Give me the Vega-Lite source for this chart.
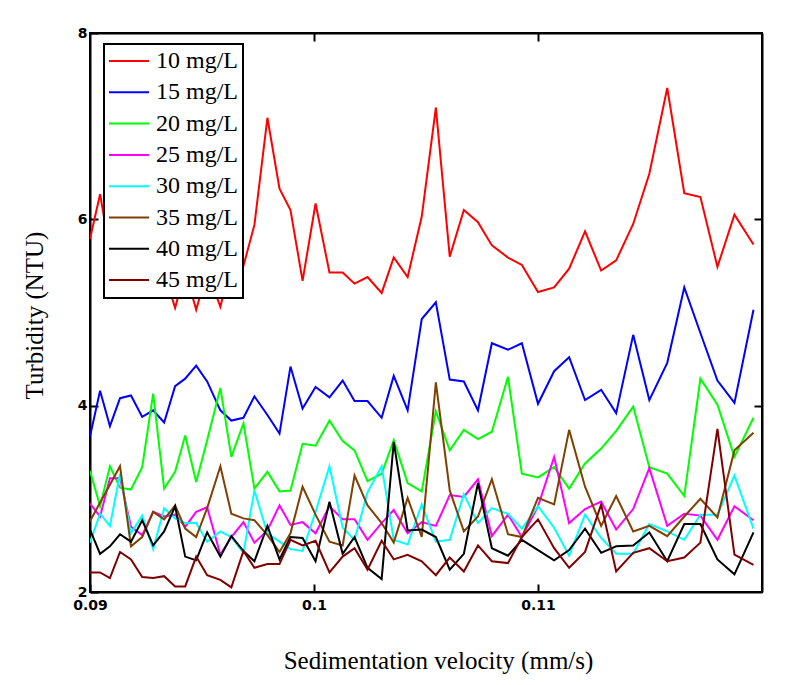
{
  "$schema": "https://vega.github.io/schema/vega-lite/v6.json",
  "width": 672,
  "height": 559,
  "autosize": {"type": "none"},
  "padding": {"left": 90, "top": 33, "right": 38, "bottom": 93},
  "background": "white",
  "data": {
    "values": [
      {"vel": 0.09, "conc": "10 mg/L", "ntu": 5.79},
      {"vel": 0.09045, "conc": "10 mg/L", "ntu": 6.27},
      {"vel": 0.09089, "conc": "10 mg/L", "ntu": 5.65},
      {"vel": 0.09134, "conc": "10 mg/L", "ntu": 5.9},
      {"vel": 0.09183, "conc": "10 mg/L", "ntu": 5.5},
      {"vel": 0.09233, "conc": "10 mg/L", "ntu": 5.75},
      {"vel": 0.09282, "conc": "10 mg/L", "ntu": 5.5},
      {"vel": 0.09331, "conc": "10 mg/L", "ntu": 5.43},
      {"vel": 0.0938, "conc": "10 mg/L", "ntu": 5.05},
      {"vel": 0.09425, "conc": "10 mg/L", "ntu": 5.45},
      {"vel": 0.09474, "conc": "10 mg/L", "ntu": 5.03},
      {"vel": 0.09523, "conc": "10 mg/L", "ntu": 5.45},
      {"vel": 0.09582, "conc": "10 mg/L", "ntu": 5.06},
      {"vel": 0.09631, "conc": "10 mg/L", "ntu": 5.55},
      {"vel": 0.09685, "conc": "10 mg/L", "ntu": 5.5},
      {"vel": 0.09734, "conc": "10 mg/L", "ntu": 5.94},
      {"vel": 0.09792, "conc": "10 mg/L", "ntu": 7.09},
      {"vel": 0.09846, "conc": "10 mg/L", "ntu": 6.33},
      {"vel": 0.09895, "conc": "10 mg/L", "ntu": 6.1},
      {"vel": 0.09949, "conc": "10 mg/L", "ntu": 5.34},
      {"vel": 0.10007, "conc": "10 mg/L", "ntu": 6.17},
      {"vel": 0.10069, "conc": "10 mg/L", "ntu": 5.43},
      {"vel": 0.10128, "conc": "10 mg/L", "ntu": 5.43},
      {"vel": 0.10181, "conc": "10 mg/L", "ntu": 5.31},
      {"vel": 0.10239, "conc": "10 mg/L", "ntu": 5.38},
      {"vel": 0.10302, "conc": "10 mg/L", "ntu": 5.21},
      {"vel": 0.10356, "conc": "10 mg/L", "ntu": 5.59},
      {"vel": 0.10418, "conc": "10 mg/L", "ntu": 5.38},
      {"vel": 0.10481, "conc": "10 mg/L", "ntu": 6.03},
      {"vel": 0.10544, "conc": "10 mg/L", "ntu": 7.2},
      {"vel": 0.10606, "conc": "10 mg/L", "ntu": 5.6},
      {"vel": 0.10669, "conc": "10 mg/L", "ntu": 6.1},
      {"vel": 0.10732, "conc": "10 mg/L", "ntu": 5.97},
      {"vel": 0.10794, "conc": "10 mg/L", "ntu": 5.72},
      {"vel": 0.10866, "conc": "10 mg/L", "ntu": 5.59},
      {"vel": 0.10928, "conc": "10 mg/L", "ntu": 5.51},
      {"vel": 0.11, "conc": "10 mg/L", "ntu": 5.22},
      {"vel": 0.11072, "conc": "10 mg/L", "ntu": 5.27},
      {"vel": 0.11139, "conc": "10 mg/L", "ntu": 5.47},
      {"vel": 0.1121, "conc": "10 mg/L", "ntu": 5.87},
      {"vel": 0.11282, "conc": "10 mg/L", "ntu": 5.45},
      {"vel": 0.11349, "conc": "10 mg/L", "ntu": 5.56},
      {"vel": 0.11425, "conc": "10 mg/L", "ntu": 5.95},
      {"vel": 0.11497, "conc": "10 mg/L", "ntu": 6.49},
      {"vel": 0.11577, "conc": "10 mg/L", "ntu": 7.41},
      {"vel": 0.11653, "conc": "10 mg/L", "ntu": 6.28},
      {"vel": 0.11725, "conc": "10 mg/L", "ntu": 6.24},
      {"vel": 0.11801, "conc": "10 mg/L", "ntu": 5.49},
      {"vel": 0.11877, "conc": "10 mg/L", "ntu": 6.05},
      {"vel": 0.11962, "conc": "10 mg/L", "ntu": 5.73},

      {"vel": 0.09, "conc": "15 mg/L", "ntu": 3.67},
      {"vel": 0.09045, "conc": "15 mg/L", "ntu": 4.16},
      {"vel": 0.09089, "conc": "15 mg/L", "ntu": 3.78},
      {"vel": 0.09134, "conc": "15 mg/L", "ntu": 4.08},
      {"vel": 0.09183, "conc": "15 mg/L", "ntu": 4.11},
      {"vel": 0.09233, "conc": "15 mg/L", "ntu": 3.88},
      {"vel": 0.09282, "conc": "15 mg/L", "ntu": 3.95},
      {"vel": 0.09331, "conc": "15 mg/L", "ntu": 3.82},
      {"vel": 0.0938, "conc": "15 mg/L", "ntu": 4.21},
      {"vel": 0.09425, "conc": "15 mg/L", "ntu": 4.29},
      {"vel": 0.09474, "conc": "15 mg/L", "ntu": 4.43},
      {"vel": 0.09523, "conc": "15 mg/L", "ntu": 4.26},
      {"vel": 0.09582, "conc": "15 mg/L", "ntu": 3.95},
      {"vel": 0.09631, "conc": "15 mg/L", "ntu": 3.84},
      {"vel": 0.09685, "conc": "15 mg/L", "ntu": 3.87},
      {"vel": 0.09734, "conc": "15 mg/L", "ntu": 4.1},
      {"vel": 0.09792, "conc": "15 mg/L", "ntu": 3.9},
      {"vel": 0.09846, "conc": "15 mg/L", "ntu": 3.7},
      {"vel": 0.09895, "conc": "15 mg/L", "ntu": 4.42},
      {"vel": 0.09949, "conc": "15 mg/L", "ntu": 3.97},
      {"vel": 0.10007, "conc": "15 mg/L", "ntu": 4.2},
      {"vel": 0.10069, "conc": "15 mg/L", "ntu": 4.09},
      {"vel": 0.10128, "conc": "15 mg/L", "ntu": 4.27},
      {"vel": 0.10181, "conc": "15 mg/L", "ntu": 4.05},
      {"vel": 0.10239, "conc": "15 mg/L", "ntu": 4.05},
      {"vel": 0.10302, "conc": "15 mg/L", "ntu": 3.87},
      {"vel": 0.10356, "conc": "15 mg/L", "ntu": 4.32},
      {"vel": 0.10418, "conc": "15 mg/L", "ntu": 3.95},
      {"vel": 0.10481, "conc": "15 mg/L", "ntu": 4.93},
      {"vel": 0.10544, "conc": "15 mg/L", "ntu": 5.11},
      {"vel": 0.10606, "conc": "15 mg/L", "ntu": 4.28},
      {"vel": 0.10669, "conc": "15 mg/L", "ntu": 4.26},
      {"vel": 0.10732, "conc": "15 mg/L", "ntu": 3.95},
      {"vel": 0.10794, "conc": "15 mg/L", "ntu": 4.67},
      {"vel": 0.10866, "conc": "15 mg/L", "ntu": 4.6},
      {"vel": 0.10928, "conc": "15 mg/L", "ntu": 4.67},
      {"vel": 0.11, "conc": "15 mg/L", "ntu": 4.02},
      {"vel": 0.11072, "conc": "15 mg/L", "ntu": 4.37},
      {"vel": 0.11139, "conc": "15 mg/L", "ntu": 4.52},
      {"vel": 0.1121, "conc": "15 mg/L", "ntu": 4.06},
      {"vel": 0.11282, "conc": "15 mg/L", "ntu": 4.17},
      {"vel": 0.11349, "conc": "15 mg/L", "ntu": 3.92},
      {"vel": 0.11425, "conc": "15 mg/L", "ntu": 4.76},
      {"vel": 0.11497, "conc": "15 mg/L", "ntu": 4.06},
      {"vel": 0.11577, "conc": "15 mg/L", "ntu": 4.46},
      {"vel": 0.11653, "conc": "15 mg/L", "ntu": 5.27},
      {"vel": 0.11725, "conc": "15 mg/L", "ntu": 4.78},
      {"vel": 0.11801, "conc": "15 mg/L", "ntu": 4.27},
      {"vel": 0.11877, "conc": "15 mg/L", "ntu": 4.03},
      {"vel": 0.11962, "conc": "15 mg/L", "ntu": 5.03},

      {"vel": 0.09, "conc": "20 mg/L", "ntu": 3.3},
      {"vel": 0.09045, "conc": "20 mg/L", "ntu": 2.92},
      {"vel": 0.09089, "conc": "20 mg/L", "ntu": 3.35},
      {"vel": 0.09134, "conc": "20 mg/L", "ntu": 3.12},
      {"vel": 0.09183, "conc": "20 mg/L", "ntu": 3.1},
      {"vel": 0.09233, "conc": "20 mg/L", "ntu": 3.34},
      {"vel": 0.09282, "conc": "20 mg/L", "ntu": 4.13},
      {"vel": 0.09331, "conc": "20 mg/L", "ntu": 3.11},
      {"vel": 0.0938, "conc": "20 mg/L", "ntu": 3.29},
      {"vel": 0.09425, "conc": "20 mg/L", "ntu": 3.68},
      {"vel": 0.09474, "conc": "20 mg/L", "ntu": 3.18},
      {"vel": 0.09523, "conc": "20 mg/L", "ntu": 3.63},
      {"vel": 0.09582, "conc": "20 mg/L", "ntu": 4.19},
      {"vel": 0.09631, "conc": "20 mg/L", "ntu": 3.45},
      {"vel": 0.09685, "conc": "20 mg/L", "ntu": 3.81},
      {"vel": 0.09734, "conc": "20 mg/L", "ntu": 3.11},
      {"vel": 0.09792, "conc": "20 mg/L", "ntu": 3.29},
      {"vel": 0.09846, "conc": "20 mg/L", "ntu": 3.08},
      {"vel": 0.09895, "conc": "20 mg/L", "ntu": 3.09},
      {"vel": 0.09949, "conc": "20 mg/L", "ntu": 3.59},
      {"vel": 0.10007, "conc": "20 mg/L", "ntu": 3.57},
      {"vel": 0.10069, "conc": "20 mg/L", "ntu": 3.84},
      {"vel": 0.10128, "conc": "20 mg/L", "ntu": 3.62},
      {"vel": 0.10181, "conc": "20 mg/L", "ntu": 3.52},
      {"vel": 0.10239, "conc": "20 mg/L", "ntu": 3.19},
      {"vel": 0.10302, "conc": "20 mg/L", "ntu": 3.27},
      {"vel": 0.10356, "conc": "20 mg/L", "ntu": 3.63},
      {"vel": 0.10418, "conc": "20 mg/L", "ntu": 3.17},
      {"vel": 0.10481, "conc": "20 mg/L", "ntu": 3.08},
      {"vel": 0.10544, "conc": "20 mg/L", "ntu": 3.94},
      {"vel": 0.10606, "conc": "20 mg/L", "ntu": 3.52},
      {"vel": 0.10669, "conc": "20 mg/L", "ntu": 3.74},
      {"vel": 0.10732, "conc": "20 mg/L", "ntu": 3.64},
      {"vel": 0.10794, "conc": "20 mg/L", "ntu": 3.72},
      {"vel": 0.10866, "conc": "20 mg/L", "ntu": 4.31},
      {"vel": 0.10928, "conc": "20 mg/L", "ntu": 3.27},
      {"vel": 0.11, "conc": "20 mg/L", "ntu": 3.23},
      {"vel": 0.11072, "conc": "20 mg/L", "ntu": 3.34},
      {"vel": 0.11139, "conc": "20 mg/L", "ntu": 3.11},
      {"vel": 0.1121, "conc": "20 mg/L", "ntu": 3.38},
      {"vel": 0.11282, "conc": "20 mg/L", "ntu": 3.54},
      {"vel": 0.11349, "conc": "20 mg/L", "ntu": 3.73},
      {"vel": 0.11425, "conc": "20 mg/L", "ntu": 3.99},
      {"vel": 0.11497, "conc": "20 mg/L", "ntu": 3.34},
      {"vel": 0.11577, "conc": "20 mg/L", "ntu": 3.27},
      {"vel": 0.11653, "conc": "20 mg/L", "ntu": 3.03},
      {"vel": 0.11725, "conc": "20 mg/L", "ntu": 4.29},
      {"vel": 0.11801, "conc": "20 mg/L", "ntu": 4.01},
      {"vel": 0.11877, "conc": "20 mg/L", "ntu": 3.45},
      {"vel": 0.11962, "conc": "20 mg/L", "ntu": 3.87},

      {"vel": 0.09, "conc": "25 mg/L", "ntu": 2.95},
      {"vel": 0.09045, "conc": "25 mg/L", "ntu": 2.81},
      {"vel": 0.09089, "conc": "25 mg/L", "ntu": 3.22},
      {"vel": 0.09134, "conc": "25 mg/L", "ntu": 3.22},
      {"vel": 0.09183, "conc": "25 mg/L", "ntu": 2.7},
      {"vel": 0.09233, "conc": "25 mg/L", "ntu": 2.61},
      {"vel": 0.09282, "conc": "25 mg/L", "ntu": 2.86},
      {"vel": 0.09331, "conc": "25 mg/L", "ntu": 2.81},
      {"vel": 0.0938, "conc": "25 mg/L", "ntu": 2.83},
      {"vel": 0.09425, "conc": "25 mg/L", "ntu": 2.7},
      {"vel": 0.09474, "conc": "25 mg/L", "ntu": 2.86},
      {"vel": 0.09523, "conc": "25 mg/L", "ntu": 2.91},
      {"vel": 0.09582, "conc": "25 mg/L", "ntu": 2.4},
      {"vel": 0.09631, "conc": "25 mg/L", "ntu": 2.59},
      {"vel": 0.09685, "conc": "25 mg/L", "ntu": 2.75},
      {"vel": 0.09734, "conc": "25 mg/L", "ntu": 2.53},
      {"vel": 0.09792, "conc": "25 mg/L", "ntu": 2.66},
      {"vel": 0.09846, "conc": "25 mg/L", "ntu": 2.93},
      {"vel": 0.09895, "conc": "25 mg/L", "ntu": 2.72},
      {"vel": 0.09949, "conc": "25 mg/L", "ntu": 2.75},
      {"vel": 0.10007, "conc": "25 mg/L", "ntu": 2.63},
      {"vel": 0.10069, "conc": "25 mg/L", "ntu": 2.92},
      {"vel": 0.10128, "conc": "25 mg/L", "ntu": 2.78},
      {"vel": 0.10181, "conc": "25 mg/L", "ntu": 2.78},
      {"vel": 0.10239, "conc": "25 mg/L", "ntu": 2.56},
      {"vel": 0.10302, "conc": "25 mg/L", "ntu": 2.74},
      {"vel": 0.10356, "conc": "25 mg/L", "ntu": 2.88},
      {"vel": 0.10418, "conc": "25 mg/L", "ntu": 2.63},
      {"vel": 0.10481, "conc": "25 mg/L", "ntu": 2.75},
      {"vel": 0.10544, "conc": "25 mg/L", "ntu": 2.71},
      {"vel": 0.10606, "conc": "25 mg/L", "ntu": 3.04},
      {"vel": 0.10669, "conc": "25 mg/L", "ntu": 3.02},
      {"vel": 0.10732, "conc": "25 mg/L", "ntu": 3.21},
      {"vel": 0.10794, "conc": "25 mg/L", "ntu": 2.6},
      {"vel": 0.10866, "conc": "25 mg/L", "ntu": 2.83},
      {"vel": 0.10928, "conc": "25 mg/L", "ntu": 2.59},
      {"vel": 0.11, "conc": "25 mg/L", "ntu": 2.92},
      {"vel": 0.11072, "conc": "25 mg/L", "ntu": 3.45},
      {"vel": 0.11139, "conc": "25 mg/L", "ntu": 2.74},
      {"vel": 0.1121, "conc": "25 mg/L", "ntu": 2.89},
      {"vel": 0.11282, "conc": "25 mg/L", "ntu": 2.97},
      {"vel": 0.11349, "conc": "25 mg/L", "ntu": 2.67},
      {"vel": 0.11425, "conc": "25 mg/L", "ntu": 2.89},
      {"vel": 0.11497, "conc": "25 mg/L", "ntu": 3.33},
      {"vel": 0.11577, "conc": "25 mg/L", "ntu": 2.71},
      {"vel": 0.11653, "conc": "25 mg/L", "ntu": 2.84},
      {"vel": 0.11725, "conc": "25 mg/L", "ntu": 2.82},
      {"vel": 0.11801, "conc": "25 mg/L", "ntu": 2.56},
      {"vel": 0.11877, "conc": "25 mg/L", "ntu": 2.92},
      {"vel": 0.11962, "conc": "25 mg/L", "ntu": 2.77},

      {"vel": 0.09, "conc": "30 mg/L", "ntu": 2.53},
      {"vel": 0.09045, "conc": "30 mg/L", "ntu": 2.84},
      {"vel": 0.09089, "conc": "30 mg/L", "ntu": 2.71},
      {"vel": 0.09134, "conc": "30 mg/L", "ntu": 3.27},
      {"vel": 0.09183, "conc": "30 mg/L", "ntu": 2.63},
      {"vel": 0.09233, "conc": "30 mg/L", "ntu": 2.82},
      {"vel": 0.09282, "conc": "30 mg/L", "ntu": 2.46},
      {"vel": 0.09331, "conc": "30 mg/L", "ntu": 2.9},
      {"vel": 0.0938, "conc": "30 mg/L", "ntu": 2.79},
      {"vel": 0.09425, "conc": "30 mg/L", "ntu": 2.74},
      {"vel": 0.09474, "conc": "30 mg/L", "ntu": 2.74},
      {"vel": 0.09523, "conc": "30 mg/L", "ntu": 2.54},
      {"vel": 0.09582, "conc": "30 mg/L", "ntu": 2.65},
      {"vel": 0.09631, "conc": "30 mg/L", "ntu": 2.59},
      {"vel": 0.09685, "conc": "30 mg/L", "ntu": 2.42},
      {"vel": 0.09734, "conc": "30 mg/L", "ntu": 3.09},
      {"vel": 0.09792, "conc": "30 mg/L", "ntu": 2.63},
      {"vel": 0.09846, "conc": "30 mg/L", "ntu": 2.54},
      {"vel": 0.09895, "conc": "30 mg/L", "ntu": 2.46},
      {"vel": 0.09949, "conc": "30 mg/L", "ntu": 2.44},
      {"vel": 0.10007, "conc": "30 mg/L", "ntu": 2.86},
      {"vel": 0.10069, "conc": "30 mg/L", "ntu": 3.35},
      {"vel": 0.10128, "conc": "30 mg/L", "ntu": 2.69},
      {"vel": 0.10181, "conc": "30 mg/L", "ntu": 2.56},
      {"vel": 0.10239, "conc": "30 mg/L", "ntu": 3.07},
      {"vel": 0.10302, "conc": "30 mg/L", "ntu": 3.35},
      {"vel": 0.10356, "conc": "30 mg/L", "ntu": 2.56},
      {"vel": 0.10418, "conc": "30 mg/L", "ntu": 2.51},
      {"vel": 0.10481, "conc": "30 mg/L", "ntu": 2.94},
      {"vel": 0.10544, "conc": "30 mg/L", "ntu": 2.54},
      {"vel": 0.10606, "conc": "30 mg/L", "ntu": 2.56},
      {"vel": 0.10669, "conc": "30 mg/L", "ntu": 3.05},
      {"vel": 0.10732, "conc": "30 mg/L", "ntu": 2.74},
      {"vel": 0.10794, "conc": "30 mg/L", "ntu": 2.9},
      {"vel": 0.10866, "conc": "30 mg/L", "ntu": 2.84},
      {"vel": 0.10928, "conc": "30 mg/L", "ntu": 2.68},
      {"vel": 0.11, "conc": "30 mg/L", "ntu": 2.92},
      {"vel": 0.11072, "conc": "30 mg/L", "ntu": 2.69},
      {"vel": 0.11139, "conc": "30 mg/L", "ntu": 2.39},
      {"vel": 0.1121, "conc": "30 mg/L", "ntu": 2.83},
      {"vel": 0.11282, "conc": "30 mg/L", "ntu": 2.58},
      {"vel": 0.11349, "conc": "30 mg/L", "ntu": 2.41},
      {"vel": 0.11425, "conc": "30 mg/L", "ntu": 2.41},
      {"vel": 0.11497, "conc": "30 mg/L", "ntu": 2.73},
      {"vel": 0.11577, "conc": "30 mg/L", "ntu": 2.65},
      {"vel": 0.11653, "conc": "30 mg/L", "ntu": 2.56},
      {"vel": 0.11725, "conc": "30 mg/L", "ntu": 2.83},
      {"vel": 0.11801, "conc": "30 mg/L", "ntu": 2.83},
      {"vel": 0.11877, "conc": "30 mg/L", "ntu": 3.25},
      {"vel": 0.11962, "conc": "30 mg/L", "ntu": 2.68},

      {"vel": 0.09, "conc": "35 mg/L", "ntu": 2.76},
      {"vel": 0.09045, "conc": "35 mg/L", "ntu": 2.96},
      {"vel": 0.09089, "conc": "35 mg/L", "ntu": 3.15},
      {"vel": 0.09134, "conc": "35 mg/L", "ntu": 3.35},
      {"vel": 0.09183, "conc": "35 mg/L", "ntu": 2.49},
      {"vel": 0.09233, "conc": "35 mg/L", "ntu": 2.59},
      {"vel": 0.09282, "conc": "35 mg/L", "ntu": 2.86},
      {"vel": 0.09331, "conc": "35 mg/L", "ntu": 2.78},
      {"vel": 0.0938, "conc": "35 mg/L", "ntu": 2.93},
      {"vel": 0.09425, "conc": "35 mg/L", "ntu": 2.68},
      {"vel": 0.09474, "conc": "35 mg/L", "ntu": 2.59},
      {"vel": 0.09523, "conc": "35 mg/L", "ntu": 2.9},
      {"vel": 0.09582, "conc": "35 mg/L", "ntu": 3.35},
      {"vel": 0.09631, "conc": "35 mg/L", "ntu": 2.84},
      {"vel": 0.09685, "conc": "35 mg/L", "ntu": 2.79},
      {"vel": 0.09734, "conc": "35 mg/L", "ntu": 2.77},
      {"vel": 0.09792, "conc": "35 mg/L", "ntu": 2.61},
      {"vel": 0.09846, "conc": "35 mg/L", "ntu": 2.43},
      {"vel": 0.09895, "conc": "35 mg/L", "ntu": 2.63},
      {"vel": 0.09949, "conc": "35 mg/L", "ntu": 3.13},
      {"vel": 0.10007, "conc": "35 mg/L", "ntu": 2.83},
      {"vel": 0.10069, "conc": "35 mg/L", "ntu": 2.54},
      {"vel": 0.10128, "conc": "35 mg/L", "ntu": 2.5},
      {"vel": 0.10181, "conc": "35 mg/L", "ntu": 3.25},
      {"vel": 0.10239, "conc": "35 mg/L", "ntu": 2.93},
      {"vel": 0.10302, "conc": "35 mg/L", "ntu": 2.74},
      {"vel": 0.10356, "conc": "35 mg/L", "ntu": 2.53},
      {"vel": 0.10418, "conc": "35 mg/L", "ntu": 3.01},
      {"vel": 0.10481, "conc": "35 mg/L", "ntu": 2.59},
      {"vel": 0.10544, "conc": "35 mg/L", "ntu": 4.25},
      {"vel": 0.10606, "conc": "35 mg/L", "ntu": 3.09},
      {"vel": 0.10669, "conc": "35 mg/L", "ntu": 2.65},
      {"vel": 0.10732, "conc": "35 mg/L", "ntu": 2.81},
      {"vel": 0.10794, "conc": "35 mg/L", "ntu": 3.21},
      {"vel": 0.10866, "conc": "35 mg/L", "ntu": 2.62},
      {"vel": 0.10928, "conc": "35 mg/L", "ntu": 2.59},
      {"vel": 0.11, "conc": "35 mg/L", "ntu": 3.01},
      {"vel": 0.11072, "conc": "35 mg/L", "ntu": 2.94},
      {"vel": 0.11139, "conc": "35 mg/L", "ntu": 3.74},
      {"vel": 0.1121, "conc": "35 mg/L", "ntu": 3.13},
      {"vel": 0.11282, "conc": "35 mg/L", "ntu": 2.71},
      {"vel": 0.11349, "conc": "35 mg/L", "ntu": 3.03},
      {"vel": 0.11425, "conc": "35 mg/L", "ntu": 2.65},
      {"vel": 0.11497, "conc": "35 mg/L", "ntu": 2.71},
      {"vel": 0.11577, "conc": "35 mg/L", "ntu": 2.6},
      {"vel": 0.11653, "conc": "35 mg/L", "ntu": 2.81},
      {"vel": 0.11725, "conc": "35 mg/L", "ntu": 3.0},
      {"vel": 0.11801, "conc": "35 mg/L", "ntu": 2.8},
      {"vel": 0.11877, "conc": "35 mg/L", "ntu": 3.52},
      {"vel": 0.11962, "conc": "35 mg/L", "ntu": 3.71},

      {"vel": 0.09, "conc": "40 mg/L", "ntu": 2.67},
      {"vel": 0.09045, "conc": "40 mg/L", "ntu": 2.41},
      {"vel": 0.09089, "conc": "40 mg/L", "ntu": 2.49},
      {"vel": 0.09134, "conc": "40 mg/L", "ntu": 2.62},
      {"vel": 0.09183, "conc": "40 mg/L", "ntu": 2.54},
      {"vel": 0.09233, "conc": "40 mg/L", "ntu": 2.77},
      {"vel": 0.09282, "conc": "40 mg/L", "ntu": 2.5},
      {"vel": 0.09331, "conc": "40 mg/L", "ntu": 2.65},
      {"vel": 0.0938, "conc": "40 mg/L", "ntu": 2.92},
      {"vel": 0.09425, "conc": "40 mg/L", "ntu": 2.38},
      {"vel": 0.09474, "conc": "40 mg/L", "ntu": 2.34},
      {"vel": 0.09523, "conc": "40 mg/L", "ntu": 2.64},
      {"vel": 0.09582, "conc": "40 mg/L", "ntu": 2.38},
      {"vel": 0.09631, "conc": "40 mg/L", "ntu": 2.6},
      {"vel": 0.09685, "conc": "40 mg/L", "ntu": 2.44},
      {"vel": 0.09734, "conc": "40 mg/L", "ntu": 2.33},
      {"vel": 0.09792, "conc": "40 mg/L", "ntu": 2.71},
      {"vel": 0.09846, "conc": "40 mg/L", "ntu": 2.35},
      {"vel": 0.09895, "conc": "40 mg/L", "ntu": 2.59},
      {"vel": 0.09949, "conc": "40 mg/L", "ntu": 2.58},
      {"vel": 0.10007, "conc": "40 mg/L", "ntu": 2.33},
      {"vel": 0.10069, "conc": "40 mg/L", "ntu": 2.97},
      {"vel": 0.10128, "conc": "40 mg/L", "ntu": 2.41},
      {"vel": 0.10181, "conc": "40 mg/L", "ntu": 2.59},
      {"vel": 0.10239, "conc": "40 mg/L", "ntu": 2.26},
      {"vel": 0.10302, "conc": "40 mg/L", "ntu": 2.14},
      {"vel": 0.10356, "conc": "40 mg/L", "ntu": 3.61},
      {"vel": 0.10418, "conc": "40 mg/L", "ntu": 2.66},
      {"vel": 0.10481, "conc": "40 mg/L", "ntu": 2.67},
      {"vel": 0.10544, "conc": "40 mg/L", "ntu": 2.59},
      {"vel": 0.10606, "conc": "40 mg/L", "ntu": 2.24},
      {"vel": 0.10669, "conc": "40 mg/L", "ntu": 2.41},
      {"vel": 0.10732, "conc": "40 mg/L", "ntu": 3.17},
      {"vel": 0.10794, "conc": "40 mg/L", "ntu": 2.47},
      {"vel": 0.10866, "conc": "40 mg/L", "ntu": 2.39},
      {"vel": 0.10928, "conc": "40 mg/L", "ntu": 2.56},
      {"vel": 0.11, "conc": "40 mg/L", "ntu": 2.45},
      {"vel": 0.11072, "conc": "40 mg/L", "ntu": 2.34},
      {"vel": 0.11139, "conc": "40 mg/L", "ntu": 2.45},
      {"vel": 0.1121, "conc": "40 mg/L", "ntu": 2.68},
      {"vel": 0.11282, "conc": "40 mg/L", "ntu": 2.42},
      {"vel": 0.11349, "conc": "40 mg/L", "ntu": 2.49},
      {"vel": 0.11425, "conc": "40 mg/L", "ntu": 2.5},
      {"vel": 0.11497, "conc": "40 mg/L", "ntu": 2.64},
      {"vel": 0.11577, "conc": "40 mg/L", "ntu": 2.33},
      {"vel": 0.11653, "conc": "40 mg/L", "ntu": 2.73},
      {"vel": 0.11725, "conc": "40 mg/L", "ntu": 2.73},
      {"vel": 0.11801, "conc": "40 mg/L", "ntu": 2.35},
      {"vel": 0.11877, "conc": "40 mg/L", "ntu": 2.19},
      {"vel": 0.11962, "conc": "40 mg/L", "ntu": 2.64},

      {"vel": 0.09, "conc": "45 mg/L", "ntu": 2.21},
      {"vel": 0.09045, "conc": "45 mg/L", "ntu": 2.21},
      {"vel": 0.09089, "conc": "45 mg/L", "ntu": 2.15},
      {"vel": 0.09134, "conc": "45 mg/L", "ntu": 2.43},
      {"vel": 0.09183, "conc": "45 mg/L", "ntu": 2.35},
      {"vel": 0.09233, "conc": "45 mg/L", "ntu": 2.16},
      {"vel": 0.09282, "conc": "45 mg/L", "ntu": 2.15},
      {"vel": 0.09331, "conc": "45 mg/L", "ntu": 2.17},
      {"vel": 0.0938, "conc": "45 mg/L", "ntu": 2.06},
      {"vel": 0.09425, "conc": "45 mg/L", "ntu": 2.06},
      {"vel": 0.09474, "conc": "45 mg/L", "ntu": 2.38},
      {"vel": 0.09523, "conc": "45 mg/L", "ntu": 2.18},
      {"vel": 0.09582, "conc": "45 mg/L", "ntu": 2.13},
      {"vel": 0.09631, "conc": "45 mg/L", "ntu": 2.05},
      {"vel": 0.09685, "conc": "45 mg/L", "ntu": 2.44},
      {"vel": 0.09734, "conc": "45 mg/L", "ntu": 2.26},
      {"vel": 0.09792, "conc": "45 mg/L", "ntu": 2.3},
      {"vel": 0.09846, "conc": "45 mg/L", "ntu": 2.3},
      {"vel": 0.09895, "conc": "45 mg/L", "ntu": 2.56},
      {"vel": 0.09949, "conc": "45 mg/L", "ntu": 2.5},
      {"vel": 0.10007, "conc": "45 mg/L", "ntu": 2.55},
      {"vel": 0.10069, "conc": "45 mg/L", "ntu": 2.21},
      {"vel": 0.10128, "conc": "45 mg/L", "ntu": 2.38},
      {"vel": 0.10181, "conc": "45 mg/L", "ntu": 2.47},
      {"vel": 0.10239, "conc": "45 mg/L", "ntu": 2.24},
      {"vel": 0.10302, "conc": "45 mg/L", "ntu": 2.55},
      {"vel": 0.10356, "conc": "45 mg/L", "ntu": 2.35},
      {"vel": 0.10418, "conc": "45 mg/L", "ntu": 2.4},
      {"vel": 0.10481, "conc": "45 mg/L", "ntu": 2.33},
      {"vel": 0.10544, "conc": "45 mg/L", "ntu": 2.18},
      {"vel": 0.10606, "conc": "45 mg/L", "ntu": 2.37},
      {"vel": 0.10669, "conc": "45 mg/L", "ntu": 2.22},
      {"vel": 0.10732, "conc": "45 mg/L", "ntu": 2.5},
      {"vel": 0.10794, "conc": "45 mg/L", "ntu": 2.33},
      {"vel": 0.10866, "conc": "45 mg/L", "ntu": 2.31},
      {"vel": 0.10928, "conc": "45 mg/L", "ntu": 2.59},
      {"vel": 0.11, "conc": "45 mg/L", "ntu": 2.78},
      {"vel": 0.11072, "conc": "45 mg/L", "ntu": 2.47},
      {"vel": 0.11139, "conc": "45 mg/L", "ntu": 2.26},
      {"vel": 0.1121, "conc": "45 mg/L", "ntu": 2.43},
      {"vel": 0.11282, "conc": "45 mg/L", "ntu": 2.94},
      {"vel": 0.11349, "conc": "45 mg/L", "ntu": 2.22},
      {"vel": 0.11425, "conc": "45 mg/L", "ntu": 2.42},
      {"vel": 0.11497, "conc": "45 mg/L", "ntu": 2.47},
      {"vel": 0.11577, "conc": "45 mg/L", "ntu": 2.33},
      {"vel": 0.11653, "conc": "45 mg/L", "ntu": 2.37},
      {"vel": 0.11725, "conc": "45 mg/L", "ntu": 2.53},
      {"vel": 0.11801, "conc": "45 mg/L", "ntu": 3.75},
      {"vel": 0.11877, "conc": "45 mg/L", "ntu": 2.4},
      {"vel": 0.11962, "conc": "45 mg/L", "ntu": 2.29}
    ]
  },
  "layer": [
    {
      "mark": {"type": "line", "strokeWidth": 2, "clip": true},
      "encoding": {
        "x": {
          "field": "vel",
          "type": "quantitative",
          "scale": {"domain": [0.09, 0.12], "nice": false, "zero": false},
          "axis": {
            "orient": "bottom",
            "values": [0.09, 0.1, 0.11],
            "format": "~g",
            "labelFlush": false,
            "labelPadding": 14,
            "title": "Sedimentation velocity (mm/s)",
            "titleX": 348,
            "titleY": 76,
            "titleBaseline": "alphabetic",
            "titleAnchor": "start",
            "titleAlign": "center"
          }
        },
        "y": {
          "field": "ntu",
          "type": "quantitative",
          "scale": {"domain": [2, 8], "nice": false, "zero": false},
          "axis": {
            "orient": "left",
            "values": [2, 4, 6, 8],
            "labelFlush": false,
            "labelPadding": 11,
            "title": "Turbidity (NTU)",
            "titleAngle": -90,
            "titleX": -48,
            "titleY": 282,
            "titleBaseline": "alphabetic",
            "titleAlign": "center"
          }
        },
        "color": {
          "field": "conc",
          "type": "nominal",
          "scale": {
            "domain": ["10 mg/L", "15 mg/L", "20 mg/L", "25 mg/L", "30 mg/L", "35 mg/L", "40 mg/L", "45 mg/L"],
            "range": ["#ff0000", "#0000ff", "#00ff00", "#ff00ff", "#00ffff", "#804000", "#000000", "#800000"]
          },
          "legend": {
            "orient": "none",
            "legendX": 14,
            "legendY": 11,
            "title": null,
            "symbolType": "M-2,0H2",
            "symbolSize": 400,
            "symbolStrokeWidth": 2,
            "labelFont": "Liberation Serif",
            "labelFontSize": 24,
            "labelColor": "black",
            "labelOffset": 15,
            "symbolOffset": 8,
            "fillColor": "white",
            "strokeColor": "black",
            "padding": 5,
            "rowPadding": 7.3
          }
        }
      }
    },
    {
      "mark": {"type": "line", "strokeOpacity": 0},
      "encoding": {
        "x": {
          "field": "vel",
          "type": "quantitative",
          "scale": {"domain": [0.09, 0.12], "nice": false, "zero": false},
          "axis": {"orient": "top", "values": [0.1, 0.11], "labels": false, "title": null}
        },
        "y": {
          "field": "ntu",
          "type": "quantitative",
          "scale": {"domain": [2, 8], "nice": false, "zero": false},
          "axis": {"orient": "right", "values": [4, 6], "labels": false, "title": null}
        },
        "detail": {"field": "conc", "type": "nominal"}
      }
    }
  ],
  "resolve": {"axis": {"x": "independent", "y": "independent"}},
  "config": {
    "view": {"stroke": "black", "strokeWidth": 2},
    "axis": {
      "grid": false,
      "domainColor": "black",
      "domainWidth": 2,
      "tickColor": "black",
      "tickWidth": 2,
      "tickSize": -8,
      "labelFont": "DejaVu Sans",
      "labelFontWeight": "bold",
      "labelFontSize": 14,
      "labelColor": "black",
      "titleFont": "Liberation Serif",
      "titleFontSize": 25,
      "titleFontWeight": "normal",
      "titleColor": "black"
    },
    "legend": {"strokeWidth": 2}
  }
}
